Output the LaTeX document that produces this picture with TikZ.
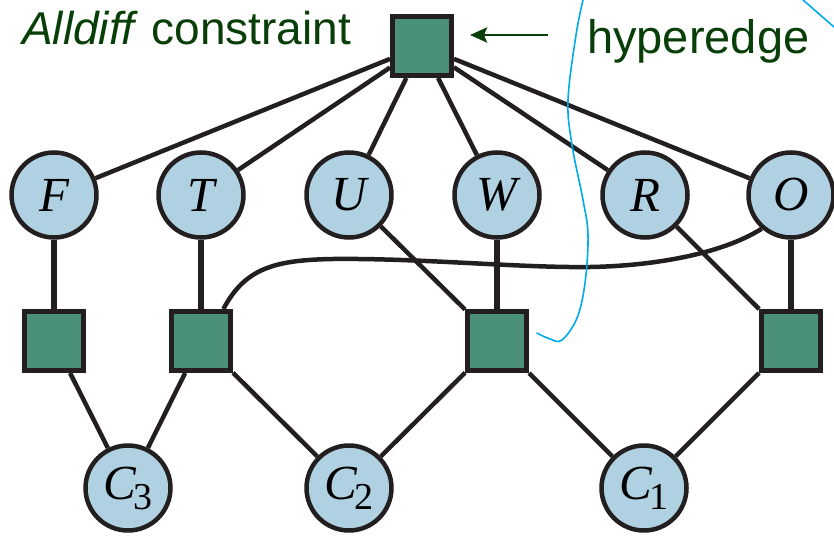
\documentclass[tikz,border=0pt]{standalone}
\usepackage{fontspec}
\setmainfont{Liberation Serif}
\newfontfamily\labelfont{Liberation Sans}
\usetikzlibrary{arrows.meta}
\definecolor{varblue}{RGB}{176,209,225}
\definecolor{consgreen}{RGB}{74,145,120}
\definecolor{edgecol}{RGB}{35,31,32}
\definecolor{labgreen}{RGB}{8,62,8}
\definecolor{penblue}{RGB}{0,170,235}
\newcommand{\subdig}[1]{\kern-2pt\raisebox{-10pt}{\upshape\fontsize{38}{38}\selectfont #1}}
\begin{document}
\begin{tikzpicture}[x=1pt,y=-1pt,
  var/.style={circle,draw=edgecol,line width=4.5pt,fill=varblue,minimum size=85pt,inner sep=0pt,
    font=\fontsize{49}{49}\selectfont\itshape},
  cons/.style={rectangle,draw=edgecol,line width=5pt,fill=consgreen,minimum size=59pt,inner sep=0pt},
  link/.style={draw=edgecol,line width=4.5pt},
  vlink/.style={draw=edgecol,line width=5.5pt},
  lab/.style={text=labgreen,font=\labelfont\fontsize{46}{46}\selectfont,inner sep=0pt,anchor=base west},
  pen/.style={draw=penblue,line width=1.6pt,line cap=round},
  hyperarrow/.style={draw=labgreen,line width=2.8pt,-{Stealth[length=17pt,width=15pt,inset=3pt]}}
]
\useasboundingbox (0,0) rectangle (834,535);

% constraint nodes
\node[cons] (A)  at (422,46)  {};
\node[cons] (F2) at (54,341)  {};
\node[cons] (T2) at (201,341) {};
\node[cons] (W2) at (497,341) {};
\node[cons] (O2) at (791,341) {};

% variable nodes
\node[var] (F) at (54,195)  {F};
\node[var] (T) at (201,195) {T};
\node[var] (U) at (349,195) {U};
\node[var] (W) at (497,195) {W};
\node[var] (R) at (645,195) {R};
\node[var] (O) at (791,195) {O};
\node[var] (C3) at (128,488) {C\subdig{3}};
\node[var] (C2) at (349,488) {C\subdig{2}};
\node[var] (C1) at (644,488) {C\subdig{1}};

% hyperedge links
\foreach \v in {F,T,U,W,R,O} { \draw[link] (A) -- (\v); }

% column links
\draw[vlink] (F) -- (F2);
\draw[vlink] (T) -- (T2);
\draw[vlink] (W) -- (W2);
\draw[vlink] (O) -- (O2);
\draw[link] (U) -- (W2);
\draw[link] (R) -- (O2);

% carry links
\draw[link] (F2) -- (C3);
\draw[link] (T2) -- (C3);
\draw[link] (T2) -- (C2);
\draw[link] (W2) -- (C2);
\draw[link] (W2) -- (C1);
\draw[link] (O2) -- (C1);

% curved link from T-square to O
\draw[link] (T2.55) .. controls (245,268) and (275,260) .. (333,259)
  .. controls (420,258) and (520,268) .. (590,267)
  .. controls (650,266) and (720,255) .. (O.229);

% labels
\node[lab] (L) at (22,45) {\textit{Alldiff} constraint};
\node[lab,font=\labelfont\fontsize{47}{47}\selectfont] (H) at (587,53) {hyperedge};
\coordinate (arrS) at (548,35);
\coordinate (arrE) at (470,35);
\draw[hyperarrow] (arrS) -- (arrE);

% hand-drawn blue pen strokes
\draw[pen] plot[smooth,tension=0.6] coordinates {(583,0) (576,35) (568,100) (572,145) (583,200) (588,235) (585,283) (577,318) (562,340) (550,339) (537,333)};
\draw[pen] (803,0) -- (834,27);
\end{tikzpicture}
\end{document}
